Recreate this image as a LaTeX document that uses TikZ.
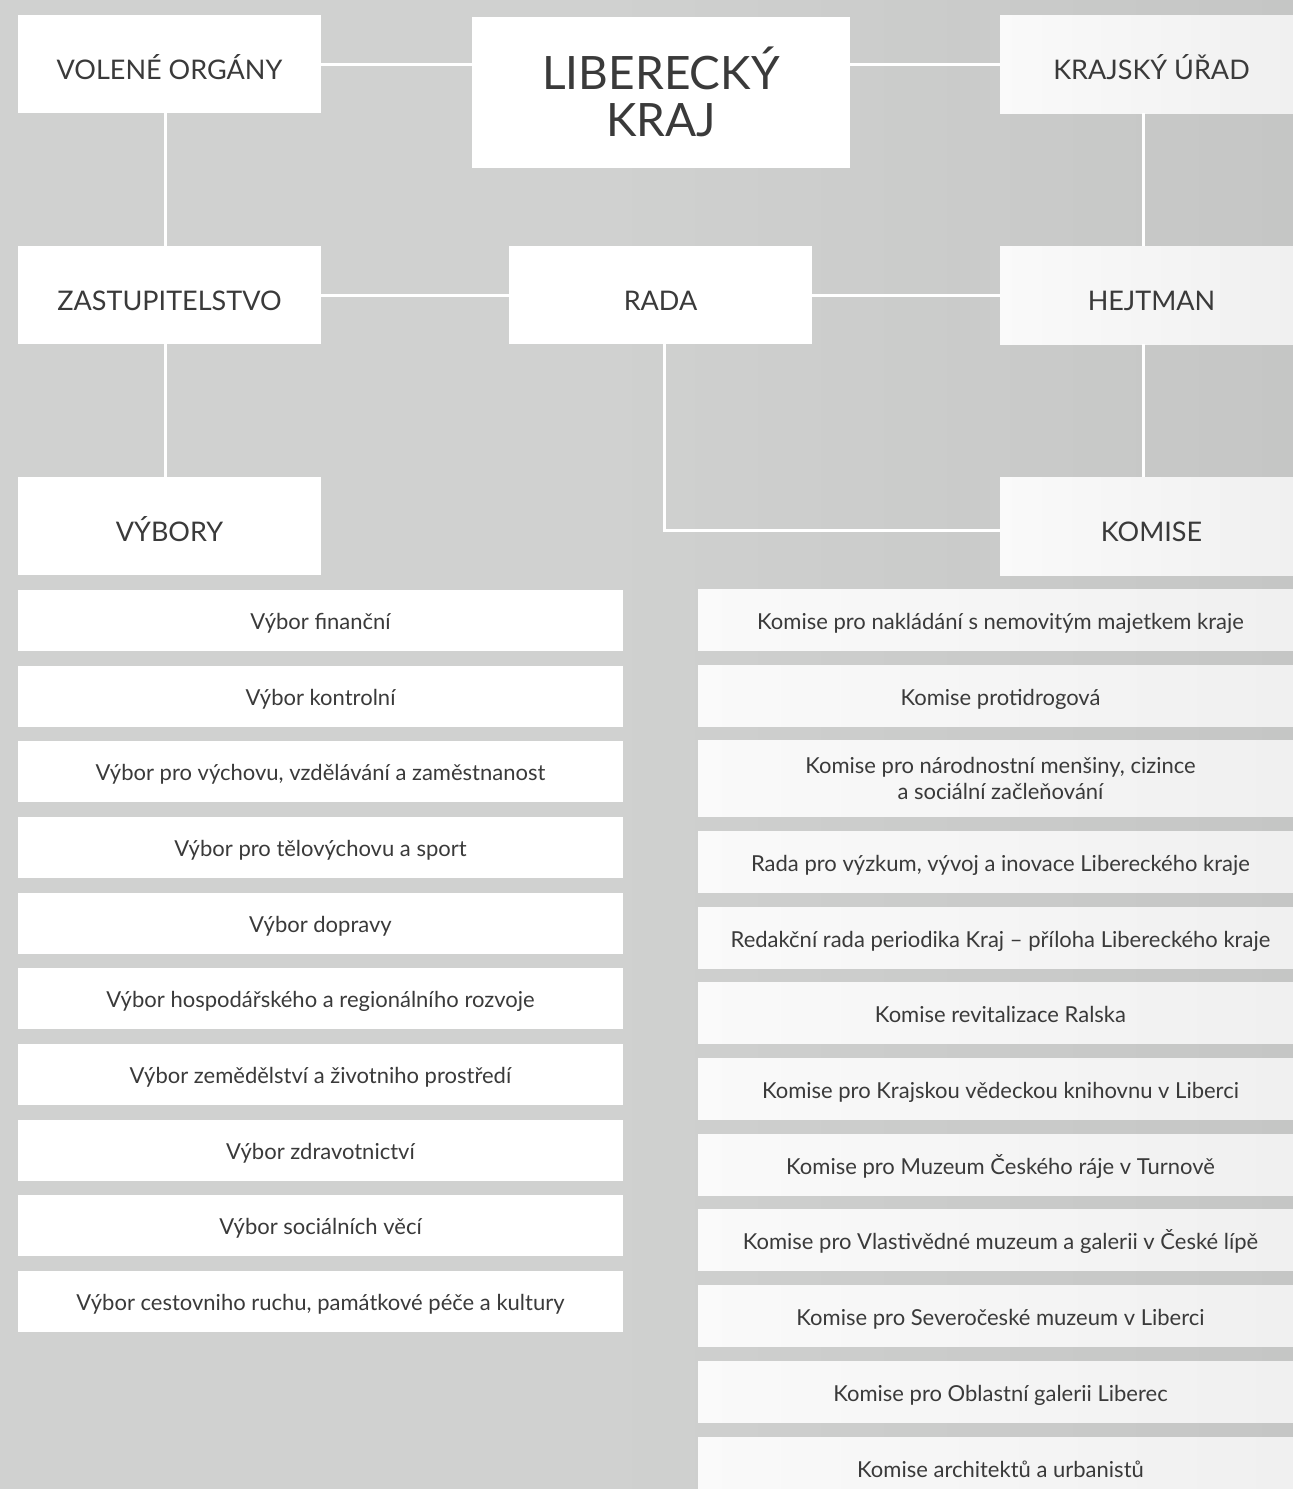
\documentclass[tikz,border=0pt]{standalone}
\usepackage{fontspec}
\setmainfont{Lato}
\definecolor{bg}{RGB}{208,209,208}
\definecolor{bgdark}{RGB}{197,198,197}
\definecolor{ink}{RGB}{58,58,58}
\tikzset{
  box/.style = {
    fill=white, text=ink, inner sep=0pt,
    minimum width=151.5pt, minimum height=49pt,
    text height=15pt, text depth=0pt,
    font=\fontsize{13.5}{16}\selectfont
  },
  rbox/.style = {box, left color=white!98!black, right color=white!94!black},
  item/.style = {
    fill=white, text=ink, inner sep=0pt, align=center,
    minimum width=302.5pt, minimum height=30.5pt,
    text height=9pt, text depth=0pt,
    font=\fontsize{11}{13}\selectfont
  },
  ritem/.style = {item, left color=white!98!black, right color=white!94!black},
  conn/.style = {draw=white, line width=1.5pt}
}

\begin{document}
\begin{tikzpicture}[x=0.5pt,y=-0.5pt]
  \useasboundingbox (0,0) rectangle (1293,1489);
  \clip (0,0) rectangle (1293,1489);
  \fill[bg] (0,0) rectangle (1293,1489);
  \shade[left color=bg, right color=bgdark] (600,0) rectangle (1293,1489);

  % top part
  \node[box] (vol) at (169.5,64) {VOLENÉ ORGÁNY};
  \node[box, minimum width=189pt, minimum height=75.5pt, align=center,
    text height=, text depth=, font=\fontsize{23}{23.5}\selectfont] (kraj) at (661,92) {LIBERECKÝ\\KRAJ};
  \node[rbox] (urad) at (1151.5,64) {KRAJSKÝ ÚŘAD};
  \node[box] (zast) at (169.5,295) {ZASTUPITELSTVO};
  \node[box] (rada) at (660.5,295) {RADA};
  \node[rbox] (hejt) at (1151.5,295) {HEJTMAN};
  \node[box] (vybory) at (169.5,526) {VÝBORY};
  \node[rbox] (komise) at (1151.5,526) {KOMISE};

  \draw[conn] (vol.east) -- (vol.east -| kraj.west);
  \draw[conn] (urad.west) -- (urad.west -| kraj.east);
  \draw[conn] ([xshift=-2.25pt]vol.south) -- ([xshift=-2.25pt]zast.north);
  \draw[conn] ([xshift=-4.25pt]urad.south) -- ([xshift=-4.25pt]hejt.north);
  \draw[conn] (zast.east) -- (rada.west);
  \draw[conn] (rada.east) -- (hejt.west);
  \draw[conn] ([xshift=-2.25pt]zast.south) -- ([xshift=-2.25pt]vybory.north);
  \draw[conn] ([xshift=-4.25pt]hejt.south) -- ([xshift=-4.25pt]komise.north);
  \draw[conn] ([xshift=1.75pt]rada.south) |- ([yshift=-2pt]komise.west);

  % vybory
  \node[item] (v1) at (320.5,620.5) {Výbor finanční};
  \node[item] (v2) at (320.5,696.2) {Výbor kontrolní};
  \node[item] (v3) at (320.5,771.8) {Výbor pro výchovu, vzdělávání a zaměstnanost};
  \node[item] (v4) at (320.5,847.5) {Výbor pro tělovýchovu a sport};
  \node[item] (v5) at (320.5,923.2) {Výbor dopravy};
  \node[item] (v6) at (320.5,998.8) {Výbor hospodářského a regionálního rozvoje};
  \node[item] (v7) at (320.5,1074.5) {Výbor zemědělství a životniho prostředí};
  \node[item] (v8) at (320.5,1150.2) {Výbor zdravotnictví};
  \node[item] (v9) at (320.5,1225.9) {Výbor sociálních věcí};
  \node[item] (v10) at (320.5,1301.5) {Výbor cestovniho ruchu, památkové péče a kultury};

  % komise
  \node[ritem] (k1) at (1000.5,620) {Komise pro nakládání s nemovitým majetkem kraje};
  \node[ritem] (k2) at (1000.5,696) {Komise protidrogová};
  \node[ritem, minimum height=38pt, text height=, text depth=] (k3) at (1000.5,778) {Komise pro národnostní menšiny, cizince\\a sociální začleňování};
  \node[ritem] (k4) at (1000.5,862) {Rada pro výzkum, vývoj a inovace Libereckého kraje};
  \node[ritem] (k5) at (1000.5,938) {Redakční rada periodika Kraj – příloha Libereckého kraje};
  \node[ritem] (k6) at (1000.5,1013) {Komise revitalizace Ralska};
  \node[ritem] (k7) at (1000.5,1089) {Komise pro Krajskou vědeckou knihovnu v Liberci};
  \node[ritem] (k8) at (1000.5,1165) {Komise pro Muzeum Českého ráje v Turnově};
  \node[ritem] (k9) at (1000.5,1240) {Komise pro Vlastivědné muzeum a galerii v České lípě};
  \node[ritem] (k10) at (1000.5,1316) {Komise pro Severočeské muzeum v Liberci};
  \node[ritem] (k11) at (1000.5,1392) {Komise pro Oblastní galerii Liberec};
  \node[ritem] (k12) at (1000.5,1468) {Komise architektů a urbanistů};
\end{tikzpicture}
\end{document}
